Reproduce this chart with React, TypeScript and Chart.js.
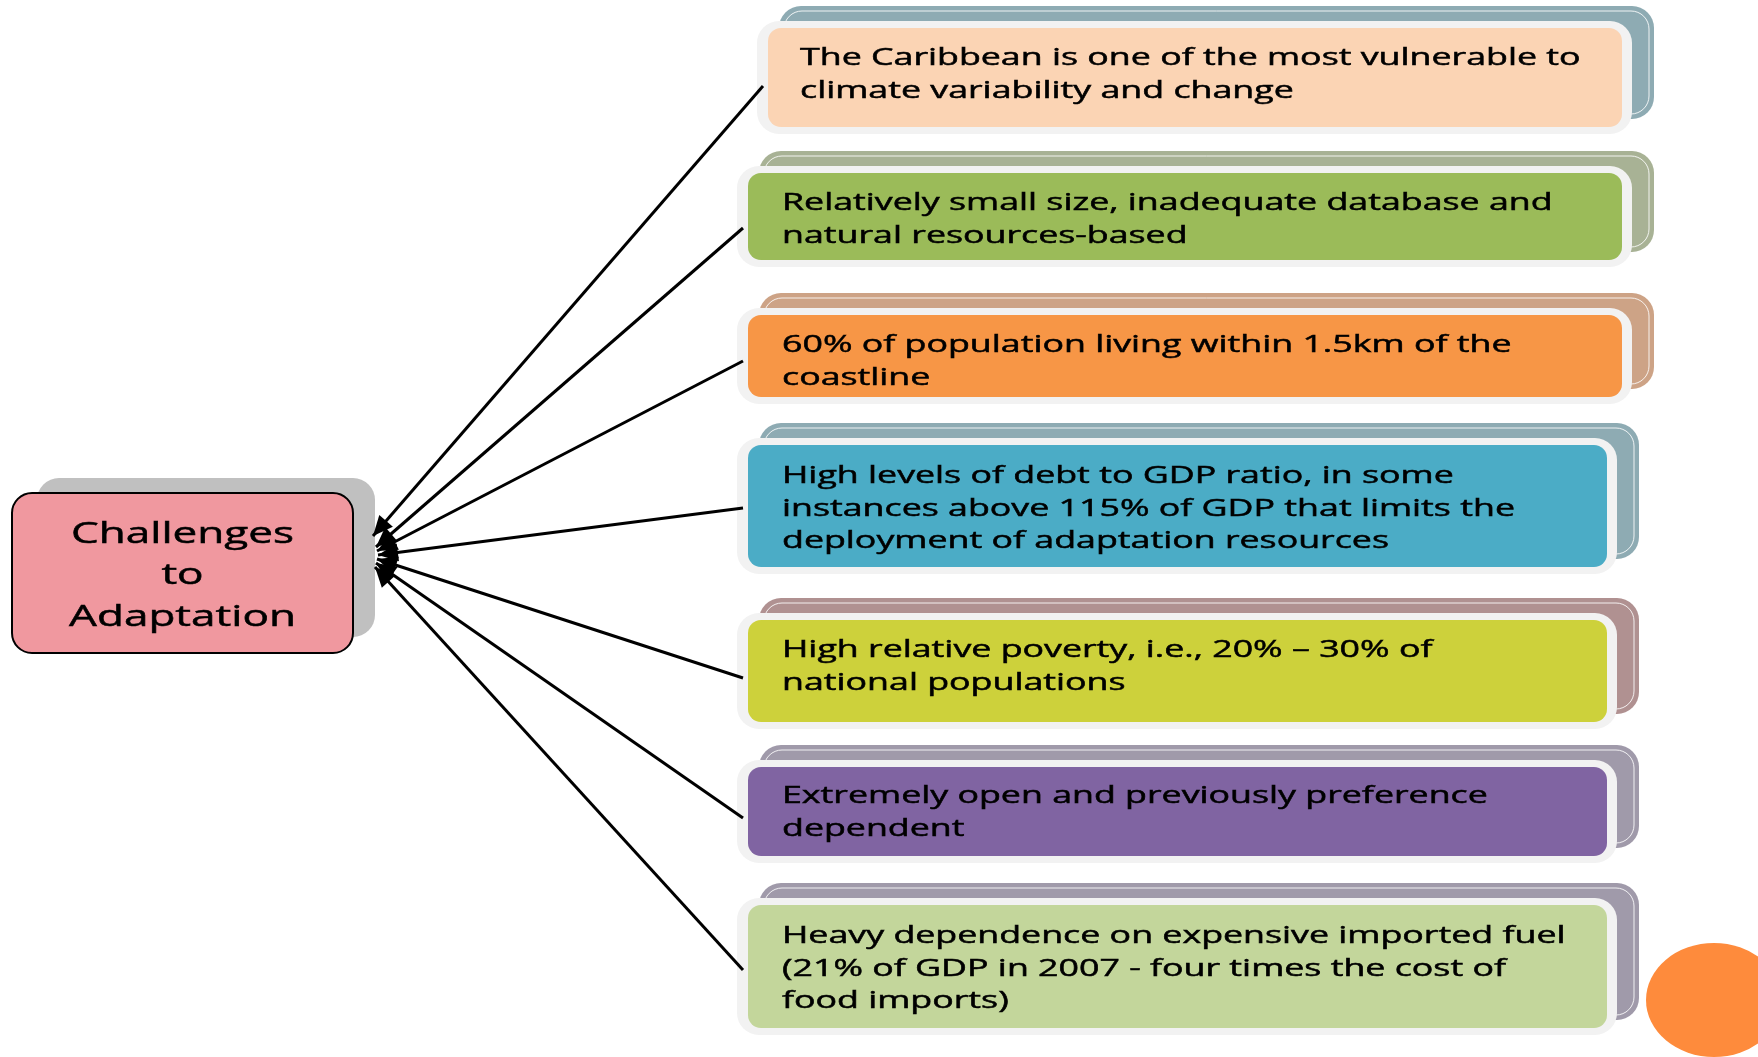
import { useEffect, useRef } from 'react';
import { Chart, registerables } from 'chart.js';

Chart.register(...registerables);

// ---- content ----
const titleLines: string[] = ['Challenges', 'to', 'Adaptation'];

const itemLines: string[][] = [
  ['The Caribbean is one of the most vulnerable to', 'climate variability and change'],
  ['Relatively small size, inadequate database and', 'natural resources-based'],
  ['60% of population living within 1.5km of the', 'coastline'],
  ['High levels of debt to GDP ratio, in some', 'instances above 115% of GDP that limits the', 'deployment of adaptation resources'],
  ['High relative poverty, i.e., 20% \u2013 30% of', 'national populations'],
  ['Extremely open and previously preference', 'dependent'],
  ['Heavy dependence on expensive imported fuel', '(21% of GDP in 2007 - four times the cost of', 'food imports)'],
];

const fillColors: string[] = ['#fbd4b4', '#9bbb59', '#f79646', '#4bacc6', '#cdd13b', '#8064a2', '#c3d69b'];
const backColors: string[] = ['#8eabb3', '#a8b295', '#cda386', '#8eabb3', '#b09191', '#a09aaa', '#a09aaa'];

// ---- layout (canvas units, 1758 x 1057) ----
const fillBoxes: number[][] = [
  [768, 28, 1622, 127],
  [748, 173, 1622, 260],
  [748, 315, 1622, 397],
  [748, 445, 1607, 567],
  [748, 620, 1607, 722],
  [748, 767, 1607, 856],
  [748, 905, 1607, 1028],
];
const textLeft: number[] = [800, 782, 782, 782, 782, 782, 782];
const firstBaseline: number[] = [65, 210, 352, 483, 657, 803, 943];
const lineStarts: number[][] = [
  [763, 86], [743, 228], [743, 361], [743, 508], [743, 678], [743, 818], [743, 970],
];
const lineTips: number[][] = [
  [373, 536], [376, 547], [377, 551], [378, 555], [377, 559], [376, 563], [375, 567],
];
const titleBox = [12, 493, 353, 653];
const titleBaselines = [543, 584, 626];

const W = 1758;
const H = 1057;

function rr(ctx: CanvasRenderingContext2D, x0: number, y0: number, x1: number, y1: number, r: number) {
  const rad = Math.min(r, (x1 - x0) / 2, (y1 - y0) / 2);
  ctx.beginPath();
  ctx.moveTo(x0 + rad, y0);
  ctx.lineTo(x1 - rad, y0);
  ctx.arcTo(x1, y0, x1, y0 + rad, rad);
  ctx.lineTo(x1, y1 - rad);
  ctx.arcTo(x1, y1, x1 - rad, y1, rad);
  ctx.lineTo(x0 + rad, y1);
  ctx.arcTo(x0, y1, x0, y1 - rad, rad);
  ctx.lineTo(x0, y0 + rad);
  ctx.arcTo(x0, y0, x0 + rad, y0, rad);
  ctx.closePath();
}

function stretchedText(ctx: CanvasRenderingContext2D, t: string, x: number, y: number, sx: number) {
  ctx.save();
  ctx.translate(x, y);
  ctx.scale(sx, 1);
  ctx.lineWidth = 0.5;
  ctx.strokeStyle = ctx.fillStyle as string;
  ctx.fillText(t, 0, 0);
  ctx.strokeText(t, 0, 0);
  ctx.restore();
}

const diagramPlugin = {
  id: 'diagram',
  beforeDatasetsDraw(chart: any) {
    const ctx: CanvasRenderingContext2D = chart.ctx;
    const xs = chart.scales.x;
    const ys = chart.scales.y;
    const px = (v: number) => xs.getPixelForValue(v);
    const py = (v: number) => ys.getPixelForValue(v);

    ctx.save();
    // title box shadow + box
    const [tx0, ty0, tx1, ty1] = titleBox;
    ctx.fillStyle = '#c0c0c0';
    rr(ctx, px(tx0 + 25), py(ty0 - 15), px(tx1 + 22), py(ty1 - 16), 22);
    ctx.fill();
    ctx.fillStyle = '#f0989f';
    rr(ctx, px(tx0), py(ty0), px(tx1), py(ty1), 20);
    ctx.fill();
    ctx.lineWidth = 2;
    ctx.strokeStyle = '#000000';
    ctx.stroke();
    ctx.fillStyle = '#000000';
    ctx.font = "29px 'Open Sans', sans-serif";
    ctx.textAlign = 'center';
    ctx.textBaseline = 'alphabetic';
    const cx = px((tx0 + tx1) / 2);
    titleLines.forEach((t, i) => stretchedText(ctx, t, cx, py(titleBaselines[i]), 1.52));

    // item boxes
    ctx.textAlign = 'left';
    ctx.font = "24px 'Open Sans', sans-serif";
    fillBoxes.forEach((b, i) => {
      const bx0 = b[0] - 11, by0 = b[1] - 7, bx1 = b[2] + 10, by1 = b[3] + 7;
      // back panel
      ctx.fillStyle = backColors[i];
      rr(ctx, px(bx0 + 22), py(by0 - 15), px(bx1 + 22), py(by1 - 15), 22);
      ctx.fill();
      ctx.strokeStyle = 'rgba(255,255,255,0.85)';
      ctx.lineWidth = 1;
      rr(ctx, px(bx0 + 27), py(by0 - 10), px(bx1 + 17), py(by1 - 20), 18);
      ctx.stroke();
      // light border
      ctx.fillStyle = '#f2f2f2';
      rr(ctx, px(bx0), py(by0), px(bx1), py(by1), 22);
      ctx.fill();
      // fill
      ctx.fillStyle = fillColors[i];
      rr(ctx, px(b[0]), py(b[1]), px(b[2]), py(b[3]), 13);
      ctx.fill();
      // text
      ctx.fillStyle = '#000000';
      itemLines[i].forEach((t, j) => {
        stretchedText(ctx, t, px(textLeft[i]), py(firstBaseline[i] + j * 32.5), 1.49);
      });
    });

    // orange circle
    ctx.fillStyle = '#fe8b3c';
    ctx.beginPath();
    ctx.ellipse(px(1714), py(1000), 68, 57, 0, 0, Math.PI * 2);
    ctx.fill();
    ctx.restore();
  },
  afterDatasetsDraw(chart: any) {
    const ctx: CanvasRenderingContext2D = chart.ctx;
    ctx.save();
    ctx.fillStyle = '#000000';
    chart.data.datasets.forEach((_: any, i: number) => {
      const meta = chart.getDatasetMeta(i);
      const p0 = meta.data[0];
      const p1 = meta.data[1];
      const ang = Math.atan2(p1.y - p0.y, p1.x - p0.x);
      const len = 20;
      const hw = 9;
      const bx = p1.x - Math.cos(ang) * len;
      const by = p1.y - Math.sin(ang) * len;
      ctx.beginPath();
      ctx.moveTo(p1.x, p1.y);
      ctx.lineTo(bx - Math.sin(ang) * hw, by + Math.cos(ang) * hw);
      ctx.lineTo(bx + Math.sin(ang) * hw, by - Math.cos(ang) * hw);
      ctx.closePath();
      ctx.fill();
    });
    ctx.restore();
  },
};

export default function App() {
  const ref = useRef<HTMLCanvasElement | null>(null);
  useEffect(() => {
    if (!ref.current) return;
    const chart = new Chart(ref.current, {
      type: 'scatter',
      data: {
        datasets: lineStarts.map((s, i) => ({
          label: 'link ' + (i + 1),
          data: [
            { x: s[0], y: s[1] },
            { x: lineTips[i][0], y: lineTips[i][1] },
          ],
          showLine: true,
          borderColor: '#000000',
          backgroundColor: '#000000',
          borderWidth: 3,
          pointRadius: 0,
        })),
      },
      options: {
        animation: false,
        responsive: false,
        layout: { padding: 0 },
        plugins: { legend: { display: false }, tooltip: { enabled: false } },
        scales: {
          x: { type: 'linear', min: 0, max: W, display: false },
          y: { type: 'linear', min: 0, max: H, reverse: true, display: false },
        },
      },
      plugins: [diagramPlugin],
    });
    return () => chart.destroy();
  }, []);
  return (
    <div style={{ position: 'absolute', left: 0, top: 0, width: W, height: H, background: '#ffffff' }}>
      <canvas ref={ref} width={W} height={H} style={{ display: 'block' }} />
    </div>
  );
}
